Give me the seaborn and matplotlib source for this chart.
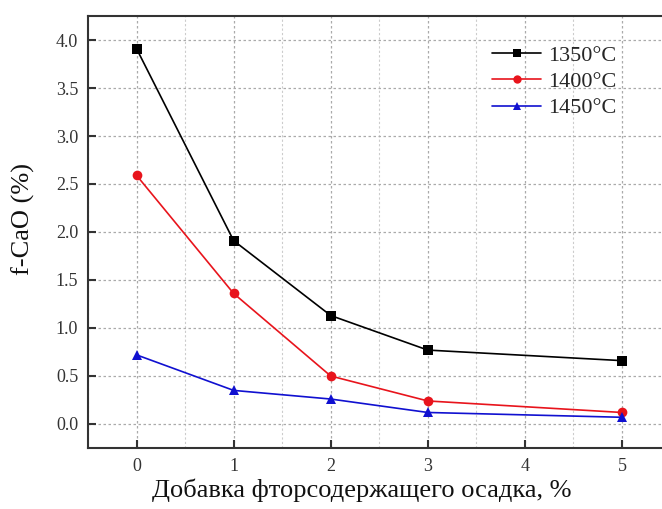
import matplotlib
matplotlib.use("Agg")
import matplotlib.pyplot as plt
import seaborn as sns
import pandas as pd
from matplotlib.ticker import MultipleLocator

additive = [0, 1, 2, 3, 5]
t1350 = [3.91, 1.91, 1.13, 0.77, 0.66]
t1400 = [2.59, 1.36, 0.50, 0.24, 0.12]
t1450 = [0.72, 0.35, 0.26, 0.12, 0.07]
series_names = ["1350°C", "1400°C", "1450°C"]
x_ticks = [0, 1, 2, 3, 4, 5]
y_ticks = [0.0, 0.5, 1.0, 1.5, 2.0, 2.5, 3.0, 3.5, 4.0]

rows = []
for name, vals in zip(series_names, [t1350, t1400, t1450]):
    for xv, yv in zip(additive, vals):
        rows.append({"x": xv, "y": yv, "T": name})
df = pd.DataFrame(rows)

sns.set_style("white")
plt.rcParams["font.family"] = ["Liberation Serif", "DejaVu Serif"]

fig = plt.figure(figsize=(6.62, 5.09), dpi=100)
ax = fig.add_axes([88/662, (509-448)/509, (670.5-88)/662, (448-16)/509])

palette = {"1350°C": "#000000", "1400°C": "#e8141c", "1450°C": "#1010d0"}
markers = {"1350°C": "s", "1400°C": "o", "1450°C": "^"}
sns.lineplot(data=df, x="x", y="y", hue="T", style="T", palette=palette,
             markers=markers, dashes=False, markersize=7, linewidth=1.2,
             markeredgewidth=0, ax=ax, legend=True)

ax.set_xlim(-0.5, 5.5)
ax.set_ylim(-0.25, 4.25)
ax.set_xticks(x_ticks)
ax.set_yticks(y_ticks)
ax.set_yticklabels([f"{v:.1f}" for v in y_ticks])
ax.xaxis.set_minor_locator(MultipleLocator(0.5))

ax.grid(True, which="major", axis="both", color="#aaaaaa", linestyle=(0, (2, 2)), linewidth=0.9)
ax.grid(True, which="minor", axis="x", color="#cccccc", linestyle=(0, (2, 2)), linewidth=0.8)

for s in ax.spines.values():
    s.set_color("#333333")
    s.set_linewidth(1.5)

ax.tick_params(axis="both", which="major", direction="in", length=6, width=1.5,
               labelsize=13, colors="#333333", labelcolor="#333333", pad=7)
ax.tick_params(axis="x", which="minor", direction="in", length=3.5, width=1.2, colors="#333333")
ax.tick_params(axis="y", left=True)
ax.tick_params(axis="x", bottom=True)

ax.set_xlabel("Добавка фторсодержащего осадка, %", fontsize=19, color="#111111")
ax.xaxis.set_label_coords((362-88)/582.5, -(478-448)/432)
ax.set_ylabel("f-CaO (%)", fontsize=19, color="#111111")
ax.yaxis.set_label_coords(-(88-35)/582.5, 0.53)

leg = ax.legend(loc="upper left", bbox_to_anchor=(0.679, 0.953), frameon=False,
                fontsize=16, handlelength=2.2, handletextpad=0.3, labelspacing=0.26,
                borderaxespad=0)
for ln in leg.get_lines():
    ln.set_markersize(6)

fig.savefig("out.png", dpi=100)
